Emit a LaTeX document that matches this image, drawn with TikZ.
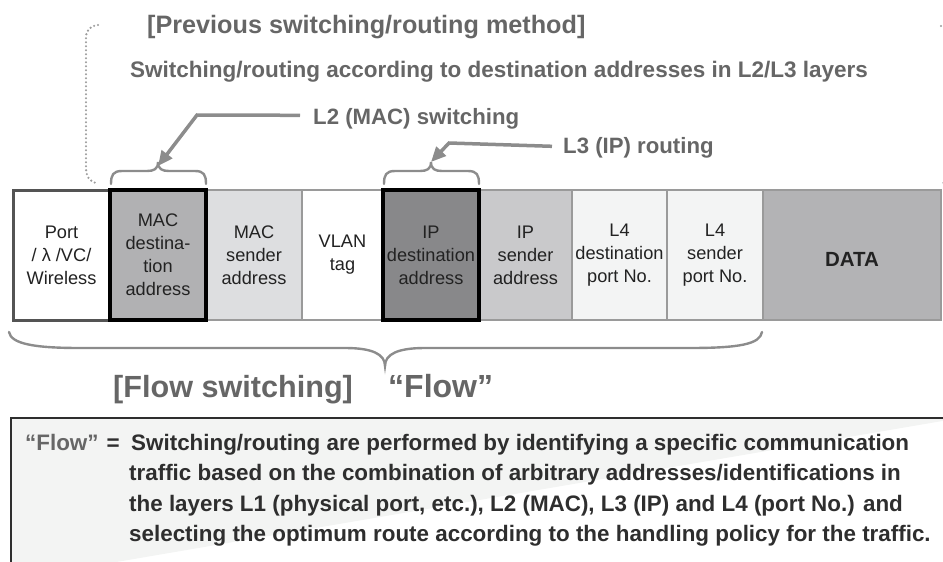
\documentclass[tikz,border=0pt]{standalone}
\usepackage{fontspec}
\setmainfont{Liberation Sans}
\usetikzlibrary{arrows.meta}
\definecolor{headgray}{HTML}{666666}
\definecolor{linegray}{HTML}{8C8C8C}
\definecolor{dotgray}{HTML}{9C9C9C}
\definecolor{cellgray}{HTML}{9A9A9A}
\definecolor{celltext}{HTML}{222222}
\definecolor{macdst}{HTML}{B1B1B3}
\definecolor{macsrc}{HTML}{DDDEE0}
\definecolor{ipdst}{HTML}{88888A}
\definecolor{ipsrc}{HTML}{C9C9CB}
\definecolor{lfour}{HTML}{F3F4F4}
\definecolor{datafill}{HTML}{B3B3B5}
\definecolor{boxfill}{HTML}{F3F4F3}
\definecolor{boxtext}{HTML}{2E2E2E}
\begin{document}
\begin{tikzpicture}[x=1pt,y=-1pt,
  head/.style={text=headgray, inner sep=0pt},
  cell/.style={draw=cellgray, line width=2.5pt, minimum height=130pt,
    inner sep=0pt, align=center, text=celltext,
    font=\fontsize{18.2}{23}\selectfont},
  keycell/.style={cell, draw=black, line width=3.5pt},
  brace/.style={draw=linegray, line width=2.4pt, line cap=round},
  pointer/.style={draw=linegray, line width=3.5pt,
    -{Triangle[length=15pt,width=13pt]}},
  dotline/.style={draw=dotgray, line width=2.4pt, line cap=round,
    dash pattern=on 0pt off 4pt},
  bodyline/.style={anchor=base west, inner sep=0pt, text=boxtext,
    font=\bfseries\fontsize{22.4}{30}\selectfont}]
\useasboundingbox (0,0) rectangle (943,562);
\clip (0,0) rectangle (943,562);

% headings
\node[head, anchor=base west, font=\bfseries\fontsize{25.2}{30}\selectfont]
  (title) at (147,33) {[Previous switching/routing method]};
\node[head, anchor=base west, font=\bfseries\fontsize{22.5}{26}\selectfont]
  (subtitle) at (130,77) {Switching/routing according to destination addresses in L2/L3 layers};
\node[head, anchor=base west, font=\bfseries\fontsize{22.2}{26}\selectfont]
  (l2) at (313,124) {L2 (MAC) switching};
\node[head, anchor=base west, font=\bfseries\fontsize{22.2}{26}\selectfont]
  (l3) at (563,153) {L3 (IP) routing};

% dotted bracket on the left, and the edge of its counterpart on the right
\draw[dotline] (98,25) .. controls (90,26) and (86,30) .. (86,38)
  -- (86,168) .. controls (86,176) and (89,181) .. (96,183);
\draw[dotline] (941,26) .. controls (949,27) and (953,31) .. (953,39)
  -- (953,168) .. controls (953,176) and (950,181) .. (943,183);

% header fields
\node[cell, minimum width=96pt, fill=macsrc] (c3) at (254,255) {MAC\\sender\\address};
\node[cell, minimum width=81pt, fill=white] (c4) at (342.5,255) {VLAN\\tag};
\node[cell, minimum width=93pt, fill=ipsrc] (c6) at (525.5,255) {IP\\sender\\address};
\node[cell, minimum width=95pt, fill=lfour] (c7) at (619.5,255) {L4\\destination\\port No.};
\node[cell, minimum width=96pt, fill=lfour] (c8) at (715,255) {L4\\sender\\port No.};
\node[cell, minimum width=178pt, fill=datafill] (c9) at (852,255) {};
\node[text=celltext, inner sep=0pt, font=\bfseries\fontsize{20.5}{24}\selectfont]
  (data) at ([yshift=-4pt]c9.center) {DATA};
\node[cell, minimum width=97pt, fill=white, draw=black!67, line width=3pt]
  (c1) at (61.5,255) {Port\\/ λ /VC/\\Wireless};
\node[keycell, minimum width=96pt, fill=macdst] (c2) at (158,255) {MAC\\destina-\\tion\\address};
\node[keycell, minimum width=96pt, fill=ipdst] (c5) at (431,255) {IP\\destination\\address};

% small braces over the destination fields
\coordinate (tipL2) at (158,162);
\coordinate (tipL3) at (431,162);
\draw[brace] (111,184) .. controls (111,175) and (113,171) .. (122,171)
  -- (147,171) .. controls (154,171) and (158,169) .. (tipL2)
  .. controls (158,169) and (162,171) .. (169,171)
  -- (195,171) .. controls (204,171) and (206,175) .. (206,184);
\draw[brace] (384,184) .. controls (384,175) and (386,171) .. (395,171)
  -- (420,171) .. controls (427,171) and (431,169) .. (tipL3)
  .. controls (431,169) and (435,171) .. (442,171)
  -- (468,171) .. controls (477,171) and (479,175) .. (479,184);

% pointers from the labels to the braces
\draw[pointer] ([xshift=-13pt,yshift=3pt]l2.west) -- (197,115) -- ([yshift=-4pt]tipL2);
\draw[pointer] ([xshift=-11pt,yshift=1pt]l3.west) -- (449,143) -- (tipL3);

% large brace under the flow fields
\coordinate (tipFlow) at (385,366);
\draw[brace] (9,332) .. controls (11,344) and (35,348) .. (80,348)
  -- (345,348) .. controls (372,348) and (385,354) .. (tipFlow)
  .. controls (385,354) and (398,348) .. (425,348)
  -- (690,348) .. controls (740,348) and (760,344) .. (762,332);

\node[head, anchor=base west, font=\bfseries\fontsize{30.6}{34}\selectfont]
  (flowsw) at (113,397) {[Flow switching]};
\node[head, anchor=base west, font=\bfseries\fontsize{32}{34}\selectfont]
  (flow) at (388,397) {“Flow”};

% definition box
\path[draw=boxtext, line width=2.5pt, fill=boxfill] (11,580) -- (11,418) -- (960,418);
\node[bodyline] (def) at (25,450) {{\color{headgray}“Flow”}\hspace{8pt}=};
\node[bodyline] (b1) at (131,450) {Switching/routing are performed by identifying a specific communication};
\node[bodyline] (b2) at (129,480.5) {traffic based on the combination of arbitrary addresses/identifications in};
\node[bodyline] (b3) at (129,511) {the layers L1 (physical port, etc.), L2 (MAC), L3 (IP) and L4 (port No.) and};
\node[bodyline] (b4) at (129,541.5) {selecting the optimum route according to the handling policy for the traffic.};
\end{tikzpicture}
\end{document}
